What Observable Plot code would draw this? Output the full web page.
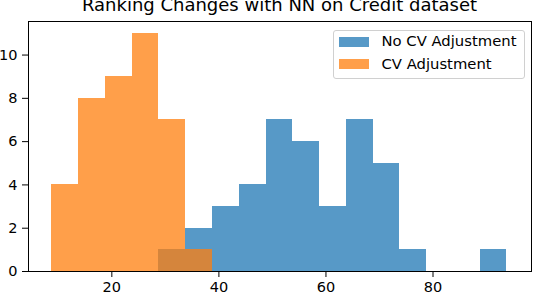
<!DOCTYPE html>
<html>
<head>
<meta charset="utf-8">
<script src="https://cdn.jsdelivr.net/npm/d3@7"></script>
<script src="https://cdn.jsdelivr.net/npm/@observablehq/plot@0.6"></script>
<style>
  html, body { margin: 0; padding: 0; background: white; }
  #wrap { position: relative; width: 534px; height: 294px; overflow: hidden; font-family: "DejaVu Sans", sans-serif; }
  #title { position: absolute; left: 28px; width: 503px; top: -3.7px; text-align: center; font-size: 18px; line-height: 18px; color: black; white-space: nowrap; }
  .lg { position: absolute; font-size: 14.8px; line-height: 14.8px; color: black; white-space: nowrap; }
  #legendBox { position: absolute; left: 333px; top: 30px; width: 190px; height: 47px; border: 1px solid #d0d0d0; border-radius: 3px; background: rgba(255,255,255,0.8); }
  .sw { position: absolute; width: 30px; height: 10px; }
</style>
</head>
<body>
<div id="wrap">
  <div id="chart"></div>
  <div id="title"></div>
  <div id="legend"></div>
</div>
<script>
// Data
const seriesNames = ["No CV Adjustment", "CV Adjustment"];
const seriesColors = ["#1f77b4", "#ff7f0e"];
const blueEdges = [28.8, 33.8, 38.8, 43.8, 48.8, 53.8, 58.8, 63.8, 68.8, 73.8, 78.8, 83.8, 88.8, 93.8];
const blueCounts = [1, 2, 3, 4, 7, 6, 3, 7, 5, 1, 0, 0, 1];
const orangeEdges = [8.8, 13.8, 18.8, 23.8, 28.8, 33.8, 38.8];
const orangeCounts = [4, 8, 9, 11, 7, 1];
const xTicks = [20, 40, 60, 80];
const yTicks = [0, 2, 4, 6, 8, 10];
const titleText = "Ranking Changes with NN on Credit dataset";

function toBins(edges, counts) {
  return counts.map((c, i) => ({ x1: edges[i], x2: edges[i + 1], count: c }));
}
const blueData = toBins(blueEdges, blueCounts);
const orangeData = toBins(orangeEdges, orangeCounts);

const chart = Plot.plot({
  width: 534,
  height: 294,
  marginLeft: 28,
  marginRight: 3,
  marginTop: 21,
  marginBottom: 23,
  x: { domain: [4.43, 98.4] },
  y: { domain: [0, 11.55] },
  style: { fontFamily: "DejaVu Sans, sans-serif", fontSize: "14.5px", color: "black", background: "white" },
  marks: [
    Plot.rectY(blueData.filter(d => d.count > 0), { x1: "x1", x2: "x2", y: "count", fill: seriesColors[0], fillOpacity: 0.75, inset: 0, shapeRendering: "crispEdges" }),
    Plot.rectY(orangeData, { x1: "x1", x2: "x2", y: "count", fill: seriesColors[1], fillOpacity: 0.75, inset: 0, shapeRendering: "crispEdges" }),
    Plot.frame({ stroke: "black", strokeWidth: 1 }),
    Plot.axisX({ ticks: xTicks, tickSize: 6, tickPadding: 4.5, label: null, stroke: "black" }),
    Plot.axisY({ ticks: yTicks, tickSize: 6, tickPadding: 5, label: null, stroke: "black" })
  ]
});
document.getElementById("chart").appendChild(chart);
document.getElementById("title").textContent = titleText;

const legend = document.getElementById("legend");
const box = document.createElement("div");
box.id = "legendBox";
legend.appendChild(box);
const rowTops = [36.7, 59.3];
seriesNames.forEach((name, i) => {
  const sw = document.createElement("div");
  sw.className = "sw";
  sw.style.left = "339px";
  sw.style.top = rowTops[i] + "px";
  sw.style.background = seriesColors[i];
  sw.style.opacity = 0.75;
  legend.appendChild(sw);
  const t = document.createElement("div");
  t.className = "lg";
  t.style.left = "381.5px";
  t.style.top = (rowTops[i] + 10 - 12.5) + "px";
  t.textContent = name;
  legend.appendChild(t);
});
</script>
</body>
</html>
